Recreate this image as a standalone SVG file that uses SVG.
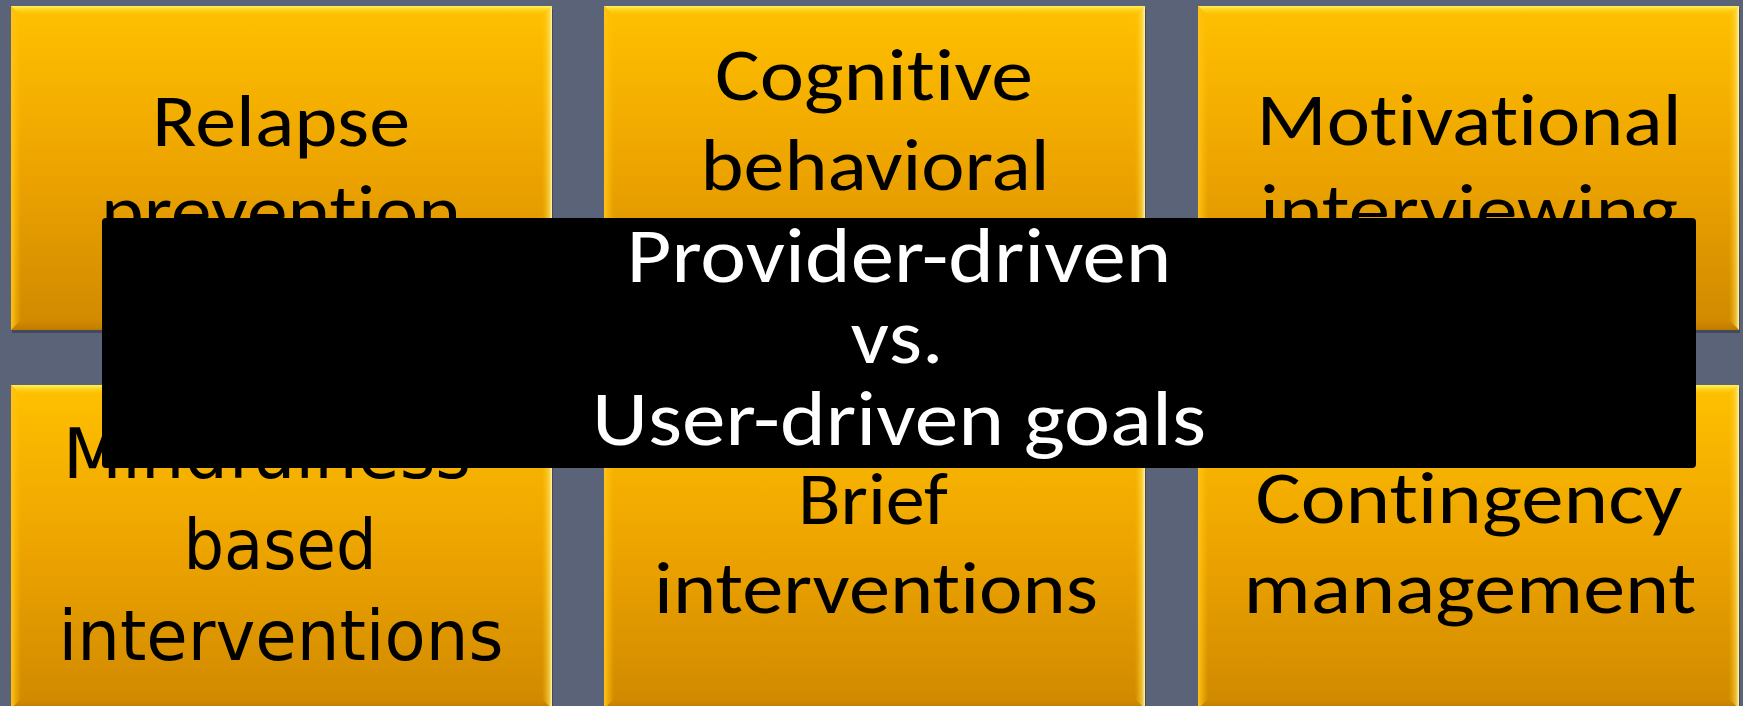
<svg xmlns="http://www.w3.org/2000/svg" xmlns:xlink="http://www.w3.org/1999/xlink" width="1743" height="706" viewBox="0 0 1743 706">
  <defs>
    <linearGradient id="amber" x1="0" y1="0" x2="0" y2="1">
      <stop offset="0" stop-color="#FFC000"/>
      <stop offset="0.5" stop-color="#EDA400"/>
      <stop offset="1" stop-color="#D08900"/>
    </linearGradient>
    <linearGradient id="bevTop" x1="0" y1="0" x2="0" y2="1">
      <stop offset="0" stop-color="#FFF35A"/>
      <stop offset="1" stop-color="#FFC400" stop-opacity="0"/>
    </linearGradient>
    <linearGradient id="bevRight" x1="0" y1="0" x2="1" y2="0">
      <stop offset="0" stop-color="#FFD000" stop-opacity="0"/>
      <stop offset="0.7" stop-color="#FFE060" stop-opacity="0.6"/>
      <stop offset="1" stop-color="#FFF7B0"/>
    </linearGradient>
    <linearGradient id="bevLeft" x1="0" y1="0" x2="1" y2="0">
      <stop offset="0" stop-color="#FFC21A"/>
      <stop offset="1" stop-color="#FFC000" stop-opacity="0"/>
    </linearGradient>
    <linearGradient id="bevBottom" x1="0" y1="0" x2="0" y2="1">
      <stop offset="0" stop-color="#C07C00" stop-opacity="0"/>
      <stop offset="1" stop-color="#B87400" stop-opacity="0.7"/>
    </linearGradient>
    <g id="tile">
      <rect x="1" y="3" width="541" height="324" fill="#000" opacity="0.25"/>
      <rect x="0" y="0" width="541" height="324" fill="url(#amber)"/>
      <polygon points="0,0 541,0 531,10 10,10" fill="url(#bevTop)"/>
      <polygon points="0,0 10,10 10,314 0,324" fill="url(#bevLeft)"/>
      <polygon points="541,0 541,324 531,314 531,10" fill="url(#bevRight)"/>
      <polygon points="0,324 541,324 531,314 10,314" fill="url(#bevBottom)"/>
    </g>
  </defs>
  <style>
    text { font-variant-ligatures: none; font-feature-settings: "liga" 0, "clig" 0; }
    .t { font-family: Carlito, Lato, "Open Sans", sans-serif; font-size: 75px; fill: #000; text-anchor: middle; }
    .d { font-family: "DejaVu Sans", sans-serif; font-stretch: condensed; font-size: 69px; fill: #000; text-anchor: middle; }
    .w { font-family: Carlito, Lato, "Open Sans", sans-serif; font-size: 78px; fill: #fff; text-anchor: middle; }
  </style>
  <rect width="1743" height="706" fill="#5A6377"/>

  <g id="relapse-prevention">
    <use xlink:href="#tile" x="11" y="6"/>
    <text class="t" x="281" y="146" textLength="258" lengthAdjust="spacingAndGlyphs">Relapse</text>
    <text class="t" x="281" y="236" textLength="360" lengthAdjust="spacingAndGlyphs">prevention</text>
  </g>
  <g id="cognitive-behavioral">
    <use xlink:href="#tile" x="604" y="6"/>
    <text class="t" x="874" y="100" textLength="318" lengthAdjust="spacingAndGlyphs">Cognitive</text>
    <text class="t" x="875" y="190" textLength="349" lengthAdjust="spacingAndGlyphs">behavioral</text>
  </g>
  <g id="motivational-interviewing">
    <use xlink:href="#tile" x="1198" y="6"/>
    <text class="t" x="1469" y="145" textLength="425" lengthAdjust="spacingAndGlyphs">Motivational</text>
    <text class="t" x="1469" y="235" textLength="418" lengthAdjust="spacingAndGlyphs">interviewing</text>
  </g>
  <g id="mindfulness-based">
    <use xlink:href="#tile" x="11" y="385"/>
    <text class="d" x="267" y="478" textLength="408" lengthAdjust="spacingAndGlyphs">Mindfulness</text>
    <text class="d" x="280" y="569" textLength="193" lengthAdjust="spacingAndGlyphs">based</text>
    <text class="d" x="281" y="660" textLength="445" lengthAdjust="spacingAndGlyphs">interventions</text>
  </g>
  <g id="brief-interventions">
    <use xlink:href="#tile" x="604" y="385"/>
    <text class="t" x="873" y="524" textLength="150" lengthAdjust="spacingAndGlyphs">Brief</text>
    <text class="t" x="876" y="613" textLength="444" lengthAdjust="spacingAndGlyphs">interventions</text>
  </g>
  <g id="contingency-management">
    <use xlink:href="#tile" x="1198" y="385"/>
    <text class="t" x="1469" y="523" textLength="427" lengthAdjust="spacingAndGlyphs">Contingency</text>
    <text class="t" x="1470" y="613" textLength="453" lengthAdjust="spacingAndGlyphs">management</text>
  </g>

  <g id="connectors"></g>

  <g id="overlay-label">
    <rect x="102" y="218" width="1594" height="250" rx="4" ry="4" fill="#000"/>
    <text class="w" x="899" y="282" textLength="545" lengthAdjust="spacingAndGlyphs">Provider-driven</text>
    <text class="w" x="897" y="363" textLength="93" lengthAdjust="spacingAndGlyphs">vs.</text>
    <text class="w" x="899" y="445" textLength="614" lengthAdjust="spacingAndGlyphs">User-driven goals</text>
  </g>
</svg>
